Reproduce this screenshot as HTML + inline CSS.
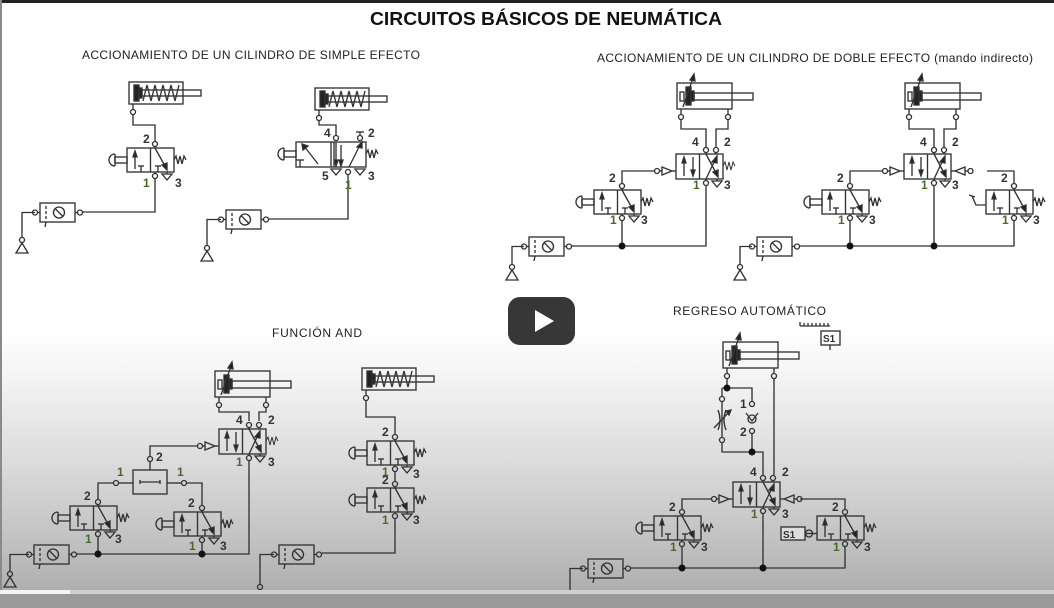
<!DOCTYPE html>
<html><head><meta charset="utf-8"><style>
html,body{margin:0;padding:0}
body{width:1054px;height:608px;overflow:hidden;position:relative;font-family:"Liberation Sans",sans-serif;
background:linear-gradient(to bottom,#fff 0,#fff 330px,#f3f3f3 380px,#dcdcdc 460px,#c2c2c2 540px,#b0b0b0 588px,#a5a5a5 608px);}
svg{position:absolute;left:0;top:0}
.t{font:bold 12px "Liberation Sans",sans-serif;fill:#333}
.g{font:bold 12px "Liberation Sans",sans-serif;fill:#4a6a2a}
.h{font:12px "Liberation Sans",sans-serif;fill:#222}
</style></head><body>
<svg width="1054" height="608" viewBox="0 0 1054 608">
<defs>
<g id="spring" fill="none" stroke="#333" stroke-width="1"><polyline points="0,0 2,-4 4,4 6,-4 8,4 10,-4 12,0"/></g>
<g id="v32" fill="none" stroke="#333" stroke-width="1.35">
<rect x="0" y="0" width="47" height="24"/><line x1="23.5" y1="0" x2="23.5" y2="24"/>
<line x1="8" y1="21" x2="8" y2="6"/><polygon points="6,9 10,9 8,3" fill="#222"/>
<line x1="14" y1="24" x2="14" y2="18"/><line x1="11" y1="18" x2="17" y2="18"/>
<line x1="31" y1="24" x2="31" y2="18"/><line x1="28" y1="18" x2="34" y2="18"/>
<line x1="28" y1="0" x2="38" y2="18"/><polygon points="35,17 40,15 40,22" fill="#222"/>
<polyline points="47,12 49,8 51,16 53,8 55,16 57,8 59,12"/>
<line x1="28" y1="-1.5" x2="28" y2="0"/><circle cx="28" cy="-4" r="2.5"/>
<line x1="28" y1="24" x2="28" y2="25.5"/><circle cx="28" cy="28" r="2.5"/>
<line x1="40" y1="24" x2="40" y2="26"/><polygon points="35,26 45,26 40,32"/>
</g>
<g id="btn" fill="none" stroke="#333" stroke-width="1.35">
<rect x="-12" y="9" width="12" height="6"/><line x1="-12" y1="6" x2="-12" y2="18"/><path d="M-12,6 A6,6 0 0,0 -12,18"/>
</g>
<g id="v52" fill="none" stroke="#333" stroke-width="1.35">
<rect x="0" y="0" width="47" height="25"/><line x1="23.5" y1="0" x2="23.5" y2="25"/>
<line x1="8" y1="22" x2="8" y2="6"/><polygon points="6,9 10,9 8,3" fill="#222"/>
<line x1="17" y1="3" x2="17" y2="19"/><polygon points="15,16 19,16 17,22" fill="#222"/>
<line x1="30" y1="0" x2="40" y2="19"/><polygon points="37,18 42,16 42,23" fill="#222"/>
<line x1="30" y1="25" x2="39" y2="6"/><polygon points="36,8 41,9 41,2" fill="#222"/>
<line x1="30" y1="-1.5" x2="30" y2="0"/><circle cx="30" cy="-4" r="2.5"/>
<line x1="40" y1="-1.5" x2="40" y2="0"/><circle cx="40" cy="-4" r="2.5"/>
<line x1="30" y1="25" x2="30" y2="26.5"/><circle cx="30" cy="29" r="2.5"/>
<line x1="41" y1="25" x2="41" y2="27"/><polygon points="36,27 46,27 41,33"/>
<polygon points="-14,13 -14,21 -4,17"/><line x1="-4" y1="17" x2="0" y2="17"/><line x1="-17" y1="17" x2="-14" y2="17"/><circle cx="-19" cy="17" r="2.5"/>
</g>
<g id="rpil" fill="none" stroke="#333" stroke-width="1.35">
<line x1="0" y1="17" x2="4" y2="17"/><polygon points="14,13 14,21 4,17"/><line x1="14" y1="17" x2="17" y2="17"/><circle cx="19.5" cy="17" r="2.5"/>
</g>
<g id="cyl2" fill="none" stroke="#333" stroke-width="1.35">
<rect x="0" y="0" width="55" height="26"/><rect x="3" y="9" width="4" height="9"/>
<rect x="9" y="4" width="5" height="18" fill="#222"/><rect x="14" y="8" width="3" height="10" fill="#222"/>
<rect x="17" y="10" width="59" height="7"/>
<line x1="6" y1="24" x2="16" y2="-5"/><polygon points="13,-3 18,-2 17,-9" fill="#222"/>
<line x1="4" y1="26" x2="4" y2="31.5"/><circle cx="4" cy="34" r="2.5"/>
<line x1="51" y1="26" x2="51" y2="31.5"/><circle cx="51" cy="34" r="2.5"/>
</g>
<g id="cyl1" fill="none" stroke="#333" stroke-width="1.35">
<rect x="0" y="0" width="54" height="22"/>
<rect x="5" y="3" width="5" height="16" fill="#222"/><rect x="10" y="6" width="3" height="10" fill="#222"/>
<rect x="13" y="8" width="59" height="6"/>
<polyline points="14,19 18,3 22,19 26,3 30,19 34,3 38,19 42,3 46,19 50,3"/>
<line x1="4" y1="22" x2="4" y2="27.5"/><circle cx="4" cy="30" r="2.5"/>
</g>
<g id="frl" fill="none" stroke="#333" stroke-width="1.35">
<rect x="0" y="0" width="35" height="19"/><line x1="6" y1="3" x2="6" y2="16" stroke-dasharray="3,2"/>
<circle cx="19" cy="9.5" r="5.5"/><line x1="15.5" y1="6" x2="22.5" y2="13"/>
<line x1="-2.5" y1="9.5" x2="0" y2="9.5"/><circle cx="-5" cy="9.5" r="2.5"/>
<line x1="35" y1="9.5" x2="37.5" y2="9.5"/><circle cx="40" cy="9.5" r="2.5"/>
<line x1="6" y1="19" x2="5" y2="24"/>
</g>
<g id="src" fill="none" stroke="#333" stroke-width="1.35"><circle cx="0" cy="0" r="2.5"/><polygon points="0,3 -6,13 6,13"/></g>
</defs>

<rect x="0" y="0" width="1054" height="3" fill="#222"/>
<text x="370" y="25" textLength="352" lengthAdjust="spacingAndGlyphs" style="font:bold 18px 'Liberation Sans',sans-serif;fill:#111">CIRCUITOS BÁSICOS DE NEUMÁTICA</text>
<text x="82" y="59" class="h" textLength="338">ACCIONAMIENTO DE UN CILINDRO DE SIMPLE EFECTO</text>
<text x="597" y="62" class="h" textLength="436">ACCIONAMIENTO DE UN CILINDRO DE DOBLE EFECTO (mando indirecto)</text>
<text x="272" y="337" class="h" textLength="90">FUNCIÓN  AND</text>
<text x="673" y="315" class="h" textLength="153">REGRESO  AUTOMÁTICO</text>

<g fill="none" stroke="#333" stroke-width="1.35">
<path d="M133,115 V125 H155 V141 M155,179 V212 H83 M35,212.5 H22 V238"/>
<path d="M319,121 V125 H336 V135 M348,175 V219 H269 M221,219.5 H207 V246"/>
<rect x="296" y="142" width="70" height="25"/><line x1="331" y1="142" x2="331" y2="167"/><line x1="334" y1="142" x2="334" y2="167"/>
<line x1="318" y1="164" x2="304" y2="146"/><polygon points="302,144 308,146 303,150" fill="#222"/>
<line x1="300" y1="167" x2="300" y2="160"/><line x1="296" y1="160" x2="304" y2="160"/>
<line x1="341" y1="145" x2="341" y2="164"/><polygon points="339,160 343,160 341,166" fill="#222"/>
<line x1="336" y1="142" x2="336" y2="164"/><polygon points="334,160 338,160 336,166" fill="#222"/>
<line x1="349" y1="167" x2="360" y2="145"/><polygon points="357,147 362,148 362,142" fill="#222"/>
<circle cx="336" cy="138" r="2.5"/><circle cx="360" cy="138" r="2.5"/><line x1="356" y1="132" x2="364" y2="132"/><line x1="360" y1="132" x2="360" y2="135"/>
<circle cx="348" cy="172" r="2.5"/><polygon points="331,169 341,169 336,175"/><polygon points="355,169 365,169 360,175"/>
<polyline points="366,154 368,150 370,158 372,150 374,158 376,150 378,154"/>
<path d="M681,120 V129 H706 V147 M728,120 V129 H716 V147 M654,171 H622 V183 M622,221 V246 M706,186 V246 H571 M524,246.5 H512 V265"/>
<path d="M909,120 V129 H934 V147 M956,120 V129 H944 V147 M882,171 H850 V183 M850,221 V246 M934,186 V246 H799 M752,246.5 H740 V265 M987,171 H1014 V183 M1014,221 V246 H934"/>
<path d="M219,408 V412 H249 V421 M266,408 V412 H259 V421 M197,446 H150 V456 M113,483 H98 V499 M187,483 H202 V505 M98,537 V554 M202,543 V554 M249,461 V554 H77 M29,554.5 H10 V572"/>
<rect x="133" y="470" width="34" height="24"/><line x1="140" y1="482" x2="160" y2="482"/><line x1="140" y1="480" x2="140" y2="484"/><line x1="160" y1="480" x2="160" y2="484"/>
<line x1="133" y1="483" x2="119" y2="483"/><line x1="167" y1="483" x2="181" y2="483"/><line x1="150" y1="462" x2="150" y2="470"/>
<circle cx="116" cy="483" r="2.5"/><circle cx="184" cy="483" r="2.5"/><circle cx="150" cy="459" r="2.5"/>
<path d="M366,401 V417 H395 V434 M395,472 V481 M395,519 V553 H322 M274,554.5 H260 V585"/>
<path d="M727,379 V388 M722,388 H752 V401 M752,434 V452 H722 V443 M722,396 V388 M722,402 V437 M752,452 H763 V475 M774,379 V475 M711,499 H682 V509 M682,547 V568 M763,514 V568 M800,499 H845 V509 M845,547 V568 H631 M583,568.5 H570 V598"/>
<circle cx="722" cy="399" r="2.5"/><circle cx="722" cy="440" r="2.5"/>
<path d="M718,410 Q722,420 718,430 M726,410 Q722,420 726,430"/><line x1="714" y1="428" x2="729" y2="412"/><polygon points="726,411 731,410 729,415" fill="#222"/>
<circle cx="752" cy="404" r="2.5"/><circle cx="752" cy="431" r="2.5"/><circle cx="752" cy="419" r="4"/><path d="M746,413 L752,421 L758,413"/>
<rect x="781" y="527" width="24" height="13" fill="#ddd"/><circle cx="809" cy="533.5" r="3.5"/><line x1="805" y1="533.5" x2="817" y2="533.5"/>
<rect x="821" y="331" width="19" height="14"/><line x1="800" y1="326" x2="830" y2="326"/><path d="M800,326 v-4 M804,326 v-3 M808,326 v-3 M812,326 v-3 M816,326 v-3 M820,326 v-3 M824,326 v-3 M828,326 v-3"/><line x1="830" y1="345" x2="830" y2="350"/>
<path d="M986,205 H976 L972,196 M969,195 L975,197"/>
</g>

<use href="#cyl1" x="129" y="82"/><use href="#v32" x="127" y="148"/><use href="#btn" x="127" y="148"/>
<use href="#frl" x="40" y="203"/><use href="#src" x="22" y="240"/>
<use href="#cyl1" x="315" y="88"/><use href="#btn" x="296" y="142"/>
<use href="#frl" x="226" y="210"/><use href="#src" x="207" y="248"/>

<use href="#cyl2" x="677" y="83"/><use href="#v52" x="676" y="154"/><use href="#spring" x="723" y="166"/>
<use href="#v32" x="594" y="190"/><use href="#btn" x="594" y="190"/>
<use href="#frl" x="529" y="237"/><use href="#src" x="512" y="267"/>

<use href="#cyl2" x="905" y="83"/><use href="#v52" x="904" y="154"/><use href="#rpil" x="951" y="154"/>
<use href="#v32" x="822" y="190"/><use href="#btn" x="822" y="190"/><use href="#v32" x="986" y="190"/>
<use href="#frl" x="757" y="237"/><use href="#src" x="740" y="267"/>

<use href="#cyl2" x="215" y="371"/><use href="#v52" x="219" y="429"/><use href="#spring" x="266" y="441"/>
<use href="#v32" x="70" y="506"/><use href="#btn" x="70" y="506"/>
<use href="#v32" x="174" y="512"/><use href="#btn" x="174" y="512"/>
<use href="#frl" x="34" y="545"/><use href="#src" x="10" y="574"/>

<use href="#cyl1" x="362" y="368"/><use href="#v32" x="367" y="441"/><use href="#btn" x="367" y="441"/>
<use href="#v32" x="367" y="488"/><use href="#btn" x="367" y="488"/>
<use href="#frl" x="279" y="545"/><use href="#src" x="260" y="587"/>

<use href="#cyl2" x="723" y="342"/><use href="#v52" x="733" y="482"/><use href="#rpil" x="780" y="482"/>
<use href="#v32" x="654" y="516"/><use href="#btn" x="654" y="516"/><use href="#v32" x="817" y="516"/>
<use href="#frl" x="588" y="559"/><use href="#src" x="570" y="600"/>

<g fill="#111">
<circle cx="622" cy="246" r="3.5"/><circle cx="850" cy="246" r="3.5"/><circle cx="934" cy="246" r="3.5"/>
<circle cx="98" cy="554" r="3.5"/><circle cx="202" cy="554" r="3.5"/>
<circle cx="727" cy="388" r="3.5"/><circle cx="752" cy="452" r="3.5"/><circle cx="682" cy="568" r="3.5"/><circle cx="763" cy="568" r="3.5"/>
</g>

<text class="t" x="143" y="143">2</text><text class="g" x="143" y="187">1</text><text class="t" x="175" y="187">3</text>
<text class="t" x="324" y="137">4</text><text class="t" x="368" y="137">2</text><text class="t" x="322" y="180">5</text><text class="g" x="345" y="189">1</text><text class="t" x="368" y="180">3</text>
<text class="t" x="692" y="146">4</text><text class="t" x="724" y="146">2</text><text class="g" x="693" y="189">1</text><text class="t" x="724" y="189">3</text>
<text class="t" x="609" y="182">2</text><text class="g" x="610" y="224">1</text><text class="t" x="641" y="224">3</text>
<text class="t" x="920" y="146">4</text><text class="t" x="952" y="146">2</text><text class="g" x="921" y="189">1</text><text class="t" x="952" y="189">3</text>
<text class="t" x="837" y="182">2</text><text class="g" x="838" y="224">1</text><text class="t" x="869" y="224">3</text>
<text class="t" x="1001" y="182">2</text><text class="g" x="1002" y="224">1</text><text class="t" x="1033" y="224">3</text>
<text class="t" x="236" y="424">4</text><text class="t" x="268" y="424">2</text><text class="g" x="236" y="466">1</text><text class="t" x="268" y="466">3</text>
<text class="t" x="156" y="461">2</text><text class="g" x="117" y="476">1</text><text class="g" x="177" y="476">1</text>
<text class="t" x="84" y="500">2</text><text class="g" x="85" y="543">1</text><text class="t" x="115" y="543">3</text>
<text class="t" x="188" y="507">2</text><text class="g" x="189" y="550">1</text><text class="t" x="220" y="550">3</text>
<text class="t" x="382" y="436">2</text><text class="g" x="382" y="476">1</text><text class="t" x="382" y="484">2</text><text class="t" x="413" y="478">3</text>
<text class="g" x="382" y="524">1</text><text class="t" x="413" y="524">3</text>
<text class="t" x="750" y="476">4</text><text class="t" x="782" y="476">2</text><text class="g" x="751" y="518">1</text><text class="t" x="782" y="518">3</text>
<text class="t" x="740" y="408">1</text><text class="t" x="740" y="436">2</text>
<text class="t" x="669" y="511">2</text><text class="g" x="670" y="551">1</text><text class="t" x="701" y="551">3</text>
<text class="t" x="832" y="511">2</text><text class="g" x="833" y="551">1</text><text class="t" x="864" y="551">3</text>
<text class="t" x="783" y="538" style="font-size:10px">S1</text><text class="t" x="823" y="342" style="font-size:10px">S1</text>

<rect x="508" y="297" width="67" height="48" rx="12" fill="#212121" opacity="0.9"/>
<polygon points="535,310 535,332 554,321" fill="#fff"/>
<rect x="0" y="590" width="1054" height="4" fill="#cfcfcf"/>
<rect x="0" y="590" width="70" height="4" fill="#f4f4f4"/>
<rect x="0" y="594" width="1054" height="14" fill="#9a9a9a"/>
<rect x="0" y="0" width="2" height="590" fill="#8a8a8a"/>
</svg>
</body></html>
